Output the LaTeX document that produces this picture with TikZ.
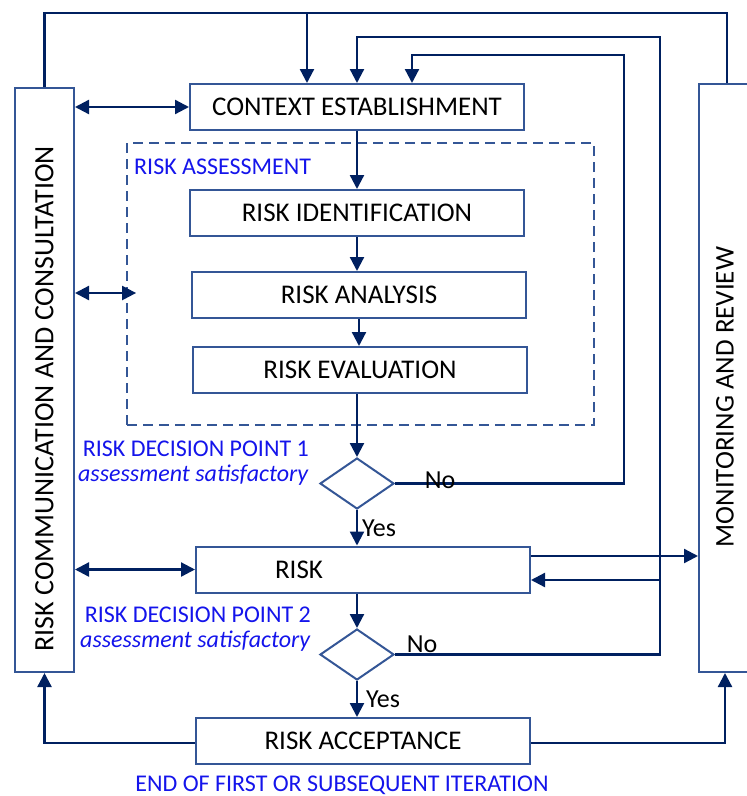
\documentclass[tikz,border=0pt]{standalone}
\usepackage{fontspec}
\setmainfont{Carlito}
\usetikzlibrary{arrows.meta,shapes.geometric}
\definecolor{navy}{RGB}{0,32,96}
\definecolor{boxblue}{RGB}{52,86,150}
\definecolor{labelblue}{RGB}{20,20,235}

\begin{document}
\begin{tikzpicture}[x=1pt, y=-1pt, >={Triangle[length=14pt,width=14pt]}]
        % Styles
        \tikzstyle{box} = [draw=boxblue, line width=2pt, minimum width=334pt, minimum height=46pt, inner sep=0pt, font=\fontsize{27}{30}\selectfont]
        \tikzstyle{side} = [draw=boxblue, line width=2pt, inner sep=0pt]
        \tikzstyle{sidetext} = [inner sep=0pt, font=\fontsize{28}{30}\selectfont, yshift=-19pt]
        \tikzstyle{dec} = [diamond, draw=boxblue, line width=2pt, minimum width=74pt, minimum height=51pt, inner sep=0pt]
        \tikzstyle{note} = [text=labelblue, inner sep=0pt, font=\fontsize{24}{25}\selectfont]
        \tikzstyle{answer} = [inner sep=0pt, font=\fontsize{26}{28}\selectfont]
        \tikzstyle{flow} = [draw=navy, line width=2.3pt]

        \clip (0,0) rectangle (747,796);

        % Boxes
        \node[side, minimum width=59pt, minimum height=584pt, label={[sidetext]center:\rotatebox{90}{RISK COMMUNICATION AND CONSULTATION}}] (comm) at (44.5,380) {};
        \node[side, minimum width=56pt, minimum height=588pt, label={[sidetext, font=\fontsize{27}{30}\selectfont, xshift=-2pt]center:\rotatebox{90}{MONITORING AND REVIEW}}] (mon) at (727,378) {};
        \node[box] (ctx) at (357,107) {CONTEXT ESTABLISHMENT};
        \node[draw=boxblue, line width=1.8pt, dash pattern=on 10pt off 6pt, minimum width=467pt, minimum height=282pt] (assess) at (360.5,284) {};
        \node[note, anchor=west] (assesslbl) at (134,167) {RISK ASSESSMENT};
        \node[box] (ri) at (357,213) {RISK IDENTIFICATION};
        \node[box] (ra) at (359,295) {RISK ANALYSIS};
        \node[box] (re) at (360,370) {RISK EVALUATION};
        \node[dec] (d1) at (357,483.5) {};
        \node[box, label={[inner sep=0pt, font=\fontsize{27}{30}\selectfont, xshift=-64pt]center:RISK}] (risk) at (363,569.5) {};
        \node[dec] (d2) at (357,654.5) {};
        \node[box] (acc) at (363,741) {RISK ACCEPTANCE};

        % Texts
        \node[note, anchor=east, align=right] (dp1) at (309,463) {RISK DECISION POINT 1\\\textit{assessment satisfactory}};
        \node[note, anchor=east, align=right] (dp2) at (311,629) {RISK DECISION POINT 2\\\textit{assessment satisfactory}};
        \node[note, anchor=base] (iter) at (342,791) {END OF FIRST OR SUBSEQUENT ITERATION};

        % Coordinates of the loops
        \coordinate (top) at (400,13);
        \coordinate (loop1) at (624,55);
        \coordinate (loop2) at (660,37);
        \coordinate (tap) at (660,580);

        % Main flow
        \draw[flow, ->] (ctx) -- (ri);
        \draw[flow, ->] (ri) -- (ri.south |- ra.north);
        \draw[flow, ->] (ra) -- (ra.south |- re.north);
        \draw[flow, ->] (re.south -| d1) -- (d1.north);
        \draw[flow, ->] (d1) -- node[answer, right=4pt] {Yes} (d1 |- risk.north);
        \draw[flow, ->] (risk.south -| d2) -- (d2.north);
        \draw[flow, ->] (d2) -- node[answer, right=8pt] {Yes} (d2 |- acc.north);

        % No branches
        \draw[flow, ->] (d1.east) -| (loop1) -| ([xshift=55pt]ctx.north);
        \node[answer] (no1) at (440,480) {No};
        \draw[flow, ->] (d2.east) -| (loop2) -| (ctx.north);
        \node[answer] (no2) at (422,644) {No};
        \draw[flow, ->] (tap) -- (tap -| risk.east);

        % Monitoring and communication
        \draw[flow] (comm.north) |- (top) -| (mon.north);
        \draw[flow, ->] ([xshift=-50pt]ctx.north |- top) -- ([xshift=-50pt]ctx.north);
        \draw[flow, ->] ([yshift=13.5pt]risk.east) -- ([yshift=13.5pt]risk.east -| mon.west);
        \draw[flow, <->] (comm.east |- ctx.west) -- (ctx.west);
        \draw[flow, <->] ([yshift=-9pt]comm.east |- assess.west) -- ([xshift=10pt, yshift=-9pt]assess.west);
        \draw[flow, <->] (comm.east |- risk.west) -- (risk.west);
        \draw[flow, ->] ([yshift=-2pt]acc.west) -| (comm.south);
        \draw[flow, ->] ([yshift=-2pt]acc.east) -| ([xshift=-2pt]mon.south);

    \end{tikzpicture}
\end{document}
